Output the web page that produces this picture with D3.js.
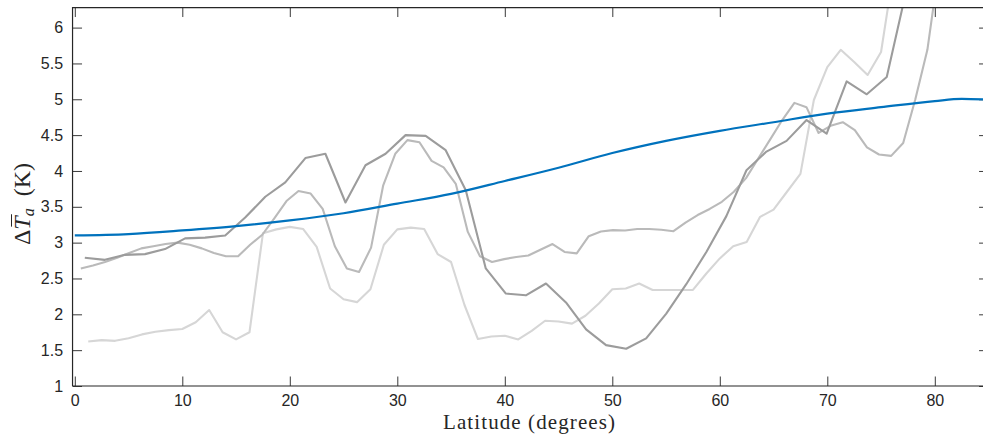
<!DOCTYPE html>
<html>
<head>
<meta charset="utf-8">
<script src="https://cdn.jsdelivr.net/npm/d3@7/dist/d3.min.js"></script>
<style>
  html, body { margin: 0; padding: 0; background: #ffffff; }
  svg { display: block; }
</style>
</head>
<body>
<svg id="chart" width="983" height="435"></svg>
<script>
// Zonal-mean near-surface warming versus latitude.
// Three gray model runs on their own latitude grids, one smooth blue reference curve.

const latA = [0.93, 2.80, 4.66, 6.53, 8.39, 10.26, 12.12, 13.99, 15.85, 17.72, 19.58, 21.45, 23.31, 25.18,
  27.04, 28.91, 30.77, 32.64, 34.50, 36.37, 38.23, 40.10, 41.96, 43.83, 45.69, 47.56, 49.42, 51.29,
  53.15, 55.02, 56.88, 58.75, 60.61, 62.48, 64.34, 66.21, 68.07, 69.94, 71.80, 73.67, 75.53, 77.40, 79.26];
const valA = [2.79, 2.76, 2.83, 2.84, 2.91, 3.06, 3.07, 3.10, 3.35, 3.64, 3.84, 4.18, 4.24, 3.56,
  4.08, 4.24, 4.50, 4.49, 4.29, 3.73, 2.64, 2.29, 2.265, 2.43, 2.165, 1.79, 1.57, 1.52,
  1.665, 2.01, 2.42, 2.87, 3.37, 4.01, 4.27, 4.42, 4.71, 4.52, 5.25, 5.07, 5.31, 6.55, 7.6];

const latB = [0.56, 1.69, 2.81, 3.94, 5.06, 6.19, 7.31, 8.44, 9.56, 10.69, 11.81, 12.94, 14.06, 15.19,
  16.31, 17.44, 18.56, 19.69, 20.81, 21.94, 23.06, 24.19, 25.31, 26.44, 27.56, 28.69, 29.81, 30.94,
  32.06, 33.19, 34.31, 35.44, 36.56, 37.69, 38.81, 39.94, 41.06, 42.19, 43.31, 44.44, 45.56, 46.69,
  47.81, 48.94, 50.06, 51.19, 52.31, 53.44, 54.56, 55.69, 56.81, 57.94, 59.06, 60.19, 61.31, 62.44,
  63.56, 64.69, 65.81, 66.94, 68.06, 69.19, 70.31, 71.44, 72.56, 73.69, 74.81, 75.94, 77.06, 78.19,
  79.31, 80.44, 81.56];
const valB = [2.64, 2.68, 2.73, 2.79, 2.855, 2.92, 2.95, 2.98, 3.00, 2.97, 2.92, 2.855, 2.81, 2.81,
  2.97, 3.11, 3.34, 3.58, 3.72, 3.685, 3.47, 2.95, 2.64, 2.59, 2.93, 3.80, 4.24, 4.43,
  4.40, 4.14, 4.05, 3.82, 3.15, 2.81, 2.73, 2.77, 2.80, 2.82, 2.90, 2.98, 2.87, 2.85,
  3.09, 3.155, 3.175, 3.17, 3.19, 3.19, 3.18, 3.16, 3.28, 3.385, 3.47, 3.57, 3.71, 3.90,
  4.17, 4.44, 4.71, 4.95, 4.89, 4.53, 4.63, 4.68, 4.57, 4.33, 4.23, 4.21, 4.39, 5.00,
  5.69, 6.9, 7.9];

const latC = [1.25, 2.5, 3.75, 5, 6.25, 7.5, 8.75, 10, 11.25, 12.5, 13.75, 15, 16.25, 17.5, 18.75,
  20, 21.25, 22.5, 23.75, 25, 26.25, 27.5, 28.75, 30, 31.25, 32.5, 33.75, 35, 36.25, 37.5,
  38.75, 40, 41.25, 42.5, 43.75, 45, 46.25, 47.5, 48.75, 50, 51.25, 52.5, 53.75, 55, 56.25,
  57.5, 58.75, 60, 61.25, 62.5, 63.75, 65, 66.25, 67.5, 68.75, 70, 71.25, 72.5, 73.75, 75,
  76.25, 77.5];
const valC = [1.62, 1.64, 1.63, 1.665, 1.72, 1.757, 1.78, 1.795, 1.89, 2.06, 1.75, 1.65, 1.75, 3.13, 3.185,
  3.22, 3.19, 2.94, 2.36, 2.21, 2.17, 2.35, 2.97, 3.185, 3.21, 3.19, 2.84, 2.73, 2.13, 1.655,
  1.69, 1.70, 1.65, 1.77, 1.91, 1.90, 1.87, 1.98, 2.15, 2.35, 2.36, 2.43, 2.34, 2.34, 2.34,
  2.34, 2.57, 2.78, 2.95, 3.01, 3.36, 3.46, 3.71, 3.96, 4.99, 5.45, 5.69, 5.52, 5.34, 5.66,
  6.87, 8.0];

const latRef = [0, 5, 10, 15, 20, 25, 30, 35, 40, 45, 50, 55, 60, 65, 70, 75, 80, 82.5, 85];
const valRef = [3.10, 3.12, 3.17, 3.23, 3.31, 3.41, 3.545, 3.68, 3.86, 4.045, 4.25, 4.42, 4.56, 4.68,
  4.80, 4.89, 4.975, 5.005, 4.995];

const xTicks = [0, 10, 20, 30, 40, 50, 60, 70, 80];
const yTicks = [1, 1.5, 2, 2.5, 3, 3.5, 4, 4.5, 5, 5.5, 6];
const xLabel = "Latitude (degrees)";

const svg = d3.select("#chart");
const x = d3.scaleLinear().domain([0, 80]).range([74.8, 934.8]);
const y = d3.scaleLinear().domain([1, 6]).range([386, 27.6]);

const plotLeft = x(-0.21), plotRight = x(85), plotTop = y(6.28), plotBottom = y(1);
const tickLen = 9.5;
const ink = "#262626";
const serif = "'Liberation Serif', 'Times New Roman', serif";

// clip region for the data lines
svg.append("defs").append("clipPath").attr("id", "plotArea")
  .append("rect").attr("x", plotLeft).attr("y", plotTop)
  .attr("width", plotRight - plotLeft).attr("height", plotBottom - plotTop);

const axisStyle = g => {
  g.select(".domain").remove();
  g.selectAll(".tick line").attr("stroke", "#3a3a3a").attr("stroke-width", 1);
  g.selectAll(".tick text").attr("fill", ink)
    .style("font-family", "'Liberation Sans', Arial, Helvetica, sans-serif")
    .style("font-size", "16px");
};

svg.append("g").attr("transform", `translate(0,${plotBottom})`)
  .call(d3.axisBottom(x).tickValues(xTicks).tickSize(-tickLen).tickSizeOuter(0).tickPadding(9)
    .tickFormat(d => String(d)))
  .call(axisStyle);
svg.append("g").attr("transform", `translate(0,${plotTop})`)
  .call(d3.axisTop(x).tickValues(xTicks).tickSize(-tickLen).tickSizeOuter(0).tickFormat(""))
  .call(axisStyle);
svg.append("g").attr("transform", `translate(${plotLeft},0)`)
  .call(d3.axisLeft(y).tickValues(yTicks).tickSize(-tickLen).tickSizeOuter(0).tickPadding(9.5)
    .tickFormat(d => String(d)))
  .call(axisStyle);
svg.append("g").attr("transform", `translate(${plotRight},0)`)
  .call(d3.axisRight(y).tickValues(yTicks).tickSize(-tickLen).tickSizeOuter(0).tickFormat(""))
  .call(axisStyle);

// lines
const line = d3.line().x(d => x(d[0])).y(d => y(d[1]));
const lines = svg.append("g").attr("clip-path", "url(#plotArea)");

const grays = [
  { lat: latC, val: valC, color: "#d6d6d6" },
  { lat: latB, val: valB, color: "#bababa" },
  { lat: latA, val: valA, color: "#9c9c9c" }
];
grays.forEach(s => {
  lines.append("path")
    .datum(d3.zip(s.lat, s.val))
    .attr("fill", "none")
    .attr("stroke", s.color)
    .attr("stroke-width", 2.1)
    .attr("stroke-linejoin", "round")
    .attr("d", line);
});

lines.append("path")
  .datum(d3.zip(latRef, valRef))
  .attr("fill", "none")
  .attr("stroke", "#0072bd")
  .attr("stroke-width", 2.2)
  .attr("d", line.curve(d3.curveMonotoneX));

// frame
svg.append("path")
  .attr("d", `M${plotLeft},${plotBottom}V${plotTop}H${plotRight}M${plotLeft},${plotBottom}H${plotRight}`)
  .attr("fill", "none").attr("stroke", ink).attr("stroke-width", 1.2);

// x label
svg.append("text")
  .attr("x", 529)
  .attr("y", 429)
  .attr("text-anchor", "middle")
  .attr("fill", ink)
  .attr("textLength", 172)
  .attr("lengthAdjust", "spacing")
  .style("font-family", serif)
  .style("font-size", "21px")
  .text(xLabel);

// y label: Δ T̄_a (K)
const yl = svg.append("g").attr("transform", "translate(30,204) rotate(-90)");
const yt = yl.append("text")
  .attr("text-anchor", "middle")
  .attr("fill", ink)
  .style("font-family", serif)
  .style("font-size", "24px");
yt.append("tspan").text("Δ");
yt.append("tspan").style("font-style", "italic").text("T");
yt.append("tspan").style("font-style", "italic").style("font-size", "16px").attr("dy", 4).text("a");
yt.append("tspan").attr("dy", -4).text("\u2002(K)");

const node = yt.node();
const tBox = node.getExtentOfChar(1);
yl.append("line")
  .attr("x1", tBox.x + 3).attr("x2", tBox.x + tBox.width + 2)
  .attr("y1", tBox.y + 2.5).attr("y2", tBox.y + 2.5)
  .attr("stroke", ink).attr("stroke-width", 1);
</script>
</body>
</html>
